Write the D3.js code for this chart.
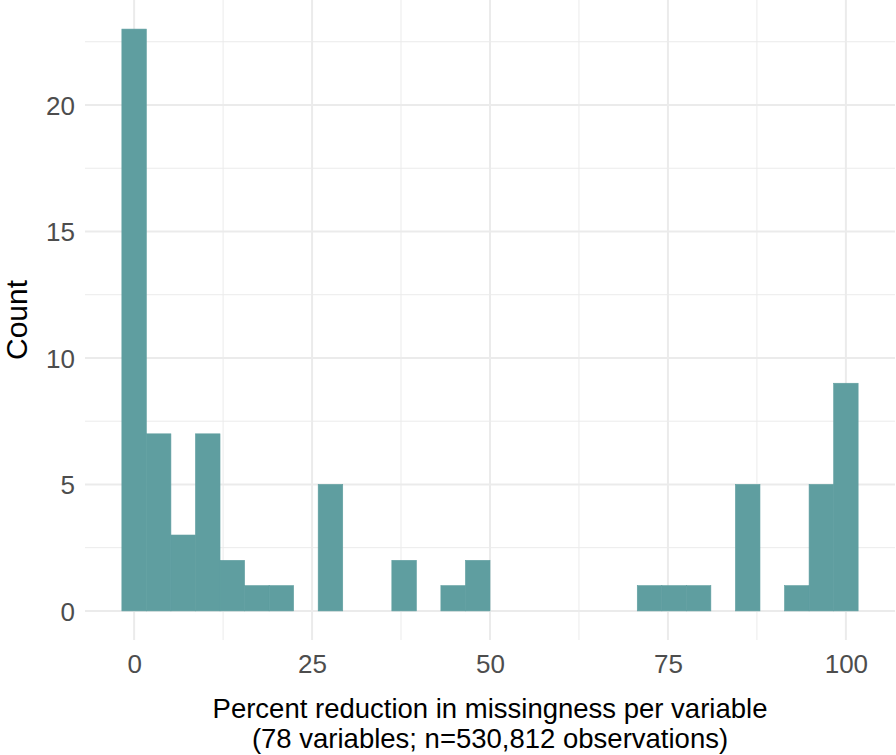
<!DOCTYPE html>
<html>
<head>
<meta charset="utf-8">
<script src="https://cdn.jsdelivr.net/npm/d3@7"></script>
<style>
  body { margin: 0; background: #fff; }
  text { font-family: "Liberation Sans", Arial, Helvetica, sans-serif; }
</style>
</head>
<body>
<div id="chart"></div>
<script>
// histogram bins (lower/upper edges, in percent) and counts
const binEdges = [-1.72, 1.72, 5.17, 8.62, 12.07, 15.52, 18.97, 22.41, 25.86, 29.31,
  32.76, 36.21, 39.66, 43.10, 46.55, 50.00, 53.45, 56.90, 60.34, 63.79,
  67.24, 70.69, 74.14, 77.59, 81.03, 84.48, 87.93, 91.38, 94.83, 98.28, 101.72];
const counts = [23, 7, 3, 7, 2, 1, 1, 0, 5, 0, 0, 2, 0, 1, 2, 0, 0, 0, 0, 0,
  0, 1, 1, 1, 0, 5, 0, 1, 5, 9];

const xTicks = [0, 25, 50, 75, 100];
const xMinor = [12.5, 37.5, 62.5, 87.5];
const yTicks = [0, 5, 10, 15, 20];
const yMinor = [2.5, 7.5, 12.5, 17.5, 22.5];

const xTitle = ["Percent reduction in missingness per variable",
  "(78 variables; n=530,812 observations)"];
const yTitle = "Count";

const W = 896, H = 755;
const panel = { left: 85, right: 895, top: 0, bottom: 640 };

const bins = counts.map((c, i) => ({ x0: binEdges[i], x1: binEdges[i + 1], n: c }));

const x = d3.scaleLinear().domain([-6.9, 106.9]).range([panel.left, panel.right]);
const y = d3.scaleLinear().domain([-1.15, 24.15]).range([panel.bottom, panel.top]);

const svg = d3.select("#chart").append("svg")
  .attr("width", W)
  .attr("height", H);

// grid
const grid = svg.append("g").attr("stroke", "#EBEBEB").attr("fill", "none");
grid.selectAll(".xminor").data(xMinor).enter().append("line")
  .attr("x1", d => x(d)).attr("x2", d => x(d))
  .attr("y1", panel.top).attr("y2", panel.bottom)
  .attr("stroke-width", 1);
grid.selectAll(".yminor").data(yMinor).enter().append("line")
  .attr("y1", d => y(d)).attr("y2", d => y(d))
  .attr("x1", panel.left).attr("x2", panel.right)
  .attr("stroke-width", 1);
grid.selectAll(".xmajor").data(xTicks).enter().append("line")
  .attr("x1", d => x(d)).attr("x2", d => x(d))
  .attr("y1", panel.top).attr("y2", panel.bottom)
  .attr("stroke-width", 2);
grid.selectAll(".ymajor").data(yTicks).enter().append("line")
  .attr("y1", d => y(d)).attr("y2", d => y(d))
  .attr("x1", panel.left).attr("x2", panel.right)
  .attr("stroke-width", 2);

// bars
svg.append("g").selectAll("rect")
  .data(bins.filter(d => d.n > 0))
  .enter().append("rect")
  .attr("x", d => x(d.x0))
  .attr("width", d => x(d.x1) - x(d.x0))
  .attr("y", d => y(d.n))
  .attr("height", d => y(0) - y(d.n))
  .attr("fill", "#5F9EA0")
  .attr("stroke", "#5F9EA0")
  .attr("stroke-width", 0.6);

// axes (text only, like theme_minimal)
const xAxis = svg.append("g")
  .attr("transform", `translate(0,${panel.bottom})`)
  .call(d3.axisBottom(x).tickValues(xTicks).tickSize(0).tickPadding(0));
xAxis.select(".domain").remove();
xAxis.selectAll("text")
  .attr("y", 33)
  .attr("dy", 0)
  .attr("fill", "#4D4D4D")
  .style("font-size", "26px");

const yAxis = svg.append("g")
  .attr("transform", `translate(${panel.left},0)`)
  .call(d3.axisLeft(y).tickValues(yTicks).tickSize(0).tickPadding(10));
yAxis.select(".domain").remove();
yAxis.selectAll("text")
  .attr("dy", "0.36em")
  .attr("fill", "#4D4D4D")
  .style("font-size", "26px");

// titles
const xt = svg.append("text")
  .attr("text-anchor", "middle")
  .attr("fill", "#000")
  .style("font-size", "27.5px");
xt.selectAll("tspan").data(xTitle).enter().append("tspan")
  .attr("x", (panel.left + panel.right) / 2)
  .attr("y", (d, i) => 718 + i * 29.5)
  .text(d => d);

svg.append("text")
  .attr("transform", `translate(27,${(panel.top + panel.bottom) / 2}) rotate(-90)`)
  .attr("text-anchor", "middle")
  .attr("fill", "#000")
  .style("font-size", "30px")
  .text(yTitle);
</script>
</body>
</html>
